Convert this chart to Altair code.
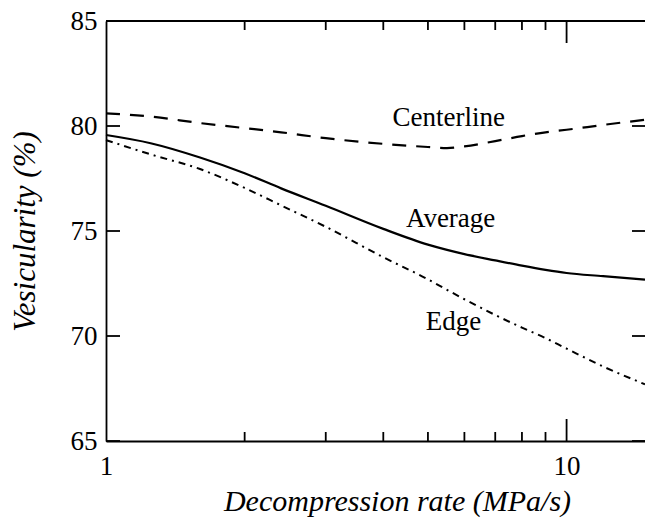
import altair as alt
import pandas as pd

# ---- data ----
rate = [1, 1.25, 1.6, 2, 2.4, 3, 4, 5, 5.5, 6, 7, 8, 9, 10, 12, 14.8]
centerline = [80.6, 80.45, 80.14, 79.9, 79.7, 79.42, 79.15, 79.0, 78.95, 79.03, 79.28, 79.52, 79.7, 79.82, 80.05, 80.3]
average = [79.57, 79.18, 78.5, 77.75, 77.03, 76.2, 75.1, 74.35, 74.1, 73.9, 73.6, 73.35, 73.15, 73.0, 72.85, 72.68]
edge = [79.33, 78.65, 77.95, 77.05, 76.22, 75.2, 73.75, 72.7, 72.2, 71.75, 71.0, 70.4, 69.9, 69.4, 68.55, 67.7]

label_text = ["Centerline", "Average", "Edge"]
label_x = [5.55, 5.6, 5.68]
label_y = [80.0, 75.19, 70.29]

x_minor_ticks = [2, 3, 4, 5, 6, 7, 8, 9]
x_major_ticks = [10]
y_ticks = [65, 70, 75, 80, 85]

W, H = 539, 420
FONT = "'Liberation Serif', 'Times New Roman', Times, serif"

xs = alt.Scale(type="log", domain=[1, 14.8], nice=False)
ys = alt.Scale(domain=[65, 85], nice=False)

df = pd.DataFrame({"rate": rate, "centerline": centerline, "average": average, "edge": edge})

xaxis = alt.Axis(values=[1, 10], labelExpr="datum.value", ticks=False, grid=False, labelFlush=False,
                 labelPadding=12, labelFontSize=27, labelFont=FONT, labelColor="black",
                 domainColor="black", domainWidth=1.8,
                 title="Decompression rate (MPa/s)", titleFont=FONT, titleFontSize=30,
                 titleFontStyle="italic", titleFontWeight="normal", titleColor="black",
                 titleX=291, titleY=69, titleBaseline="alphabetic", titleAlign="center")
yaxis = alt.Axis(values=y_ticks, ticks=False, grid=False, labelFlush=False,
                 labelPadding=9, labelFontSize=27, labelFont=FONT, labelColor="black",
                 domainColor="black", domainWidth=1.8,
                 title="Vesicularity (%)", titleFont=FONT, titleFontSize=31,
                 titleFontStyle="italic", titleFontWeight="normal", titleColor="black",
                 titleX=-81, titleY=210, titleAngle=270, titleBaseline="middle", titleAlign="center")

base = alt.Chart(df)

center_line = base.mark_line(color="black", strokeWidth=2.2, strokeDash=[14, 10], interpolate="monotone").encode(
    x=alt.X("rate:Q", scale=xs, axis=xaxis),
    y=alt.Y("centerline:Q", scale=ys, axis=yaxis),
)
avg_line = base.mark_line(color="black", strokeWidth=2.2, interpolate="monotone").encode(
    x=alt.X("rate:Q", scale=xs), y=alt.Y("average:Q", scale=ys)
)
edge_line = base.mark_line(color="black", strokeWidth=2.0, strokeDash=[7, 5, 2, 5], interpolate="monotone").encode(
    x=alt.X("rate:Q", scale=xs), y=alt.Y("edge:Q", scale=ys)
)

labels = alt.Chart(pd.DataFrame({"t": label_text, "x": label_x, "y": label_y})).mark_text(
    font=FONT, fontSize=27, color="black", align="center", baseline="alphabetic"
).encode(x=alt.X("x:Q", scale=xs), y=alt.Y("y:Q", scale=ys), text="t:N")

minor_df = pd.DataFrame({"v": x_minor_ticks})
major_df = pd.DataFrame({"v": x_major_ticks})
ytick_df = pd.DataFrame({"v": y_ticks})

def xtick(d, length, top):
    if top:
        return alt.Chart(d).mark_rule(color="black", strokeWidth=1.8).encode(
            x=alt.X("v:Q", scale=xs), y=alt.value(0), y2=alt.value(length))
    return alt.Chart(d).mark_rule(color="black", strokeWidth=1.8).encode(
        x=alt.X("v:Q", scale=xs), y=alt.value(H), y2=alt.value(H - length))

ticks = [
    xtick(minor_df, 9, False), xtick(minor_df, 9, True),
    xtick(major_df, 22, False), xtick(major_df, 22, True),
    alt.Chart(ytick_df).mark_rule(color="black", strokeWidth=1.8).encode(
        y=alt.Y("v:Q", scale=ys), x=alt.value(0), x2=alt.value(14)),
    alt.Chart(ytick_df).mark_rule(color="black", strokeWidth=1.8).encode(
        y=alt.Y("v:Q", scale=ys), x=alt.value(W - 13), x2=alt.value(W)),
    alt.Chart(ytick_df).mark_rule(color="black", strokeWidth=1.8).encode(
        x=alt.value(0), x2=alt.value(W), y=alt.value(0)),
]

chart = alt.layer(center_line, avg_line, edge_line, labels, *ticks).properties(
    width=W, height=H,
    autosize=alt.AutoSizeParams(type="none"),
    padding={"left": 106, "top": 21, "right": 0, "bottom": 82},
).configure_view(stroke=None).configure(background="white", font=FONT)

chart.save("out.html", embed_options={"renderer": "svg", "actions": False})
